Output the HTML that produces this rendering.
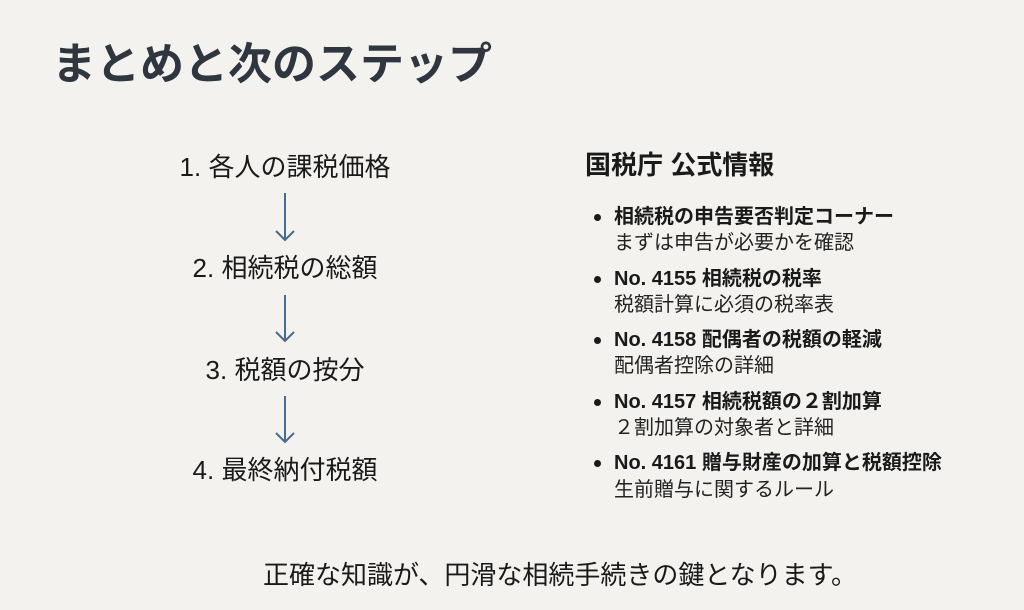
<!DOCTYPE html>
<html><head><meta charset="utf-8"><style>
body{margin:0;width:1024px;height:610px;background:#f3f2ee;position:relative;overflow:hidden;font-family:"Liberation Sans","Noto Sans CJK JP",sans-serif;color:#1a1a1a}
.a{position:absolute;white-space:nowrap;line-height:1}
.t{left:52px;top:43px;font-size:44px;font-weight:bold;color:#2f3640}
.s{font-size:26px;left:0;width:570px;text-align:center}
.h{left:585px;top:152px;font-size:26px;font-weight:bold}
.b{left:614px;font-size:20px;font-weight:bold}
.d{left:614px;font-size:20px;color:#222}
.dot{position:absolute;left:594px;width:7px;height:7px;border-radius:50%;background:#1a1a1a}
</style></head><body>
<div class="a t">まとめと次のステップ</div>
<div class="a s" style="top:154px">1. 各人の課税価格</div>
<div class="a s" style="top:255px">2. 相続税の総額</div>
<div class="a s" style="top:357px">3. 税額の按分</div>
<div class="a s" style="top:457px">4. 最終納付税額</div>
<svg class="a" style="left:0;top:0" width="600" height="610">
<g stroke="#4a6a8e" stroke-width="2" fill="none">
<path d="M285 193V240M276 231L285 240L294 231"/>
<path d="M285 295V341M276 332L285 341L294 332"/>
<path d="M285 396V442M276 433L285 442L294 433"/>
</g></svg>
<div class="a h">国税庁 公式情報</div>
<div class="dot" style="top:214px"></div><div class="a b" style="top:207px">相続税の申告要否判定コーナー</div>
<div class="a d" style="top:233px">まずは申告が必要かを確認</div>
<div class="dot" style="top:276px"></div><div class="a b" style="top:269px">No. 4155 相続税の税率</div>
<div class="a d" style="top:295px">税額計算に必須の税率表</div>
<div class="dot" style="top:337px"></div><div class="a b" style="top:330px">No. 4158 配偶者の税額の軽減</div>
<div class="a d" style="top:356px">配偶者控除の詳細</div>
<div class="dot" style="top:399px"></div><div class="a b" style="top:392px">No. 4157 相続税額の２割加算</div>
<div class="a d" style="top:418px">２割加算の対象者と詳細</div>
<div class="dot" style="top:460px"></div><div class="a b" style="top:453px">No. 4161 贈与財産の加算と税額控除</div>
<div class="a d" style="top:480px">生前贈与に関するルール</div>
<div class="a" style="left:0;width:1120px;text-align:center;top:562px;font-size:26px">正確な知識が、円滑な相続手続きの鍵となります。</div>
</body></html>
